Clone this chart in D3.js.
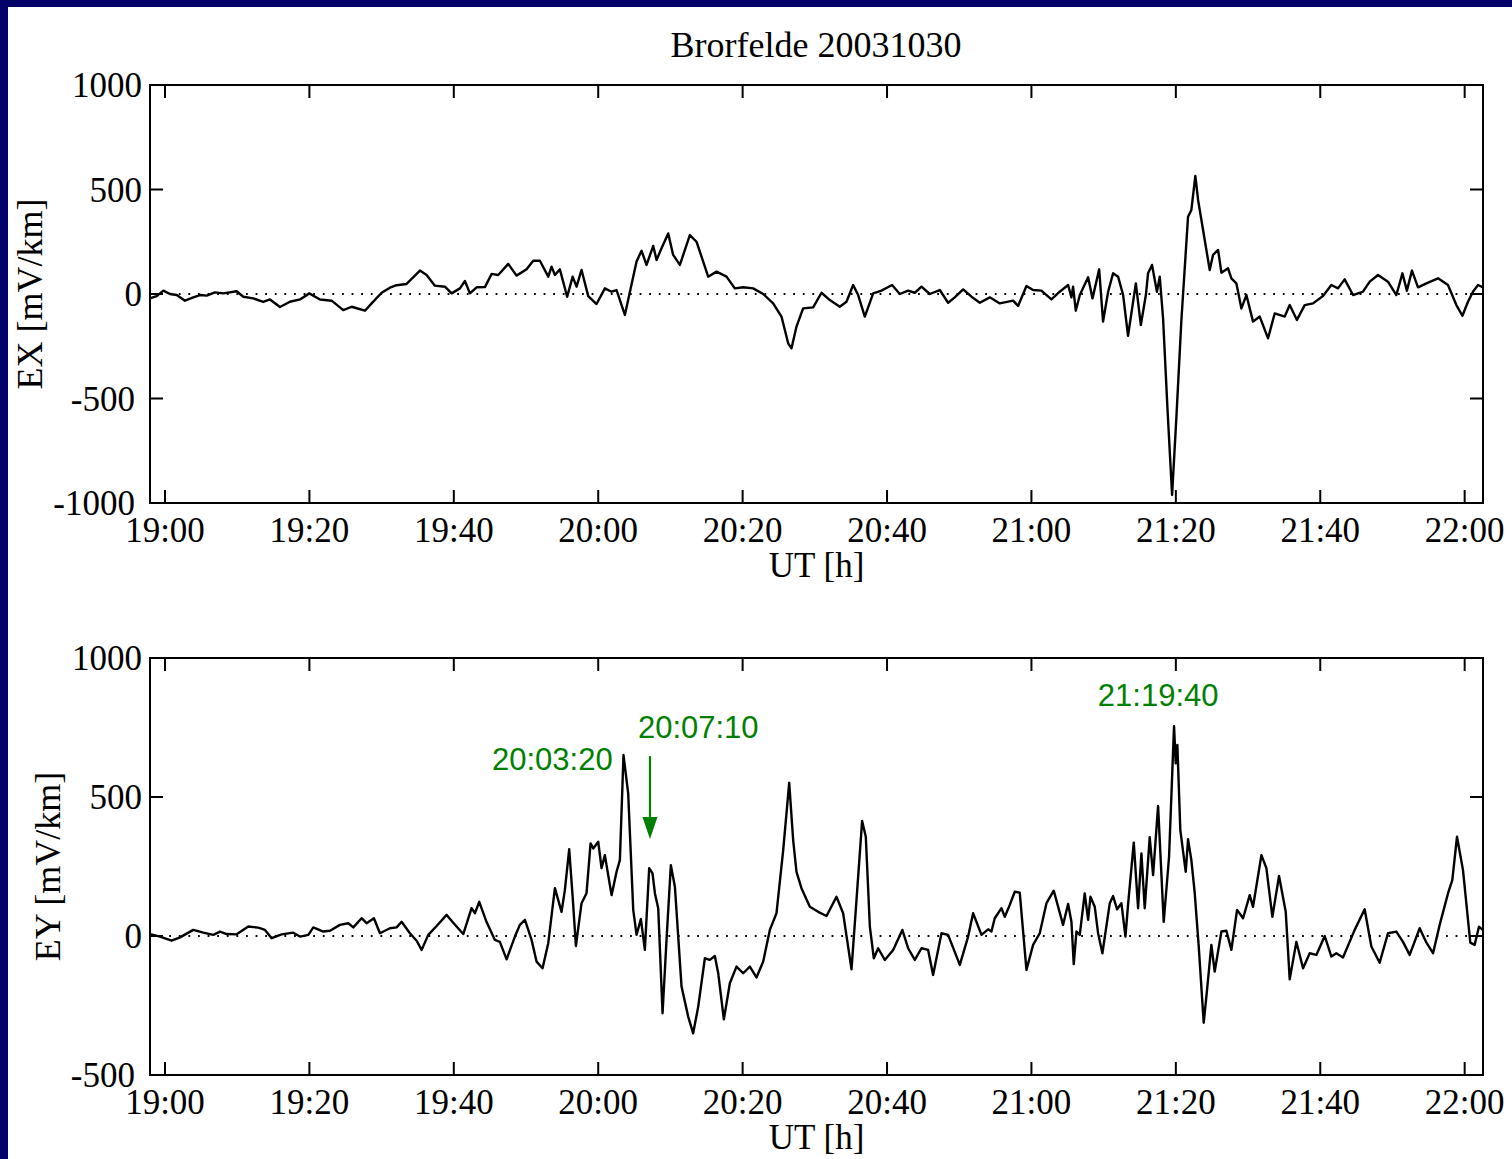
<!DOCTYPE html>
<html><head><meta charset="utf-8">
<script src="https://cdn.jsdelivr.net/npm/d3@7"></script>
<style>
html,body{margin:0;padding:0;background:#fff;}
svg{display:block;}
</style></head><body>
<svg id="chart" width="1512" height="1159"></svg>
<script>
// ---------- DATA (time in minutes after 19:00 UT, values in mV/km) ----------
const exTime = [-2.08,-1.15,-0.23,0.69,1.62,2.77,3.92,4.85,5.77,6.92,8.08,9.92,10.85,12.23,13.6,14.54,15.92,17.3,18.7,19.98,21.46,23.08,24.69,25.85,27.69,28.62,30,31.15,32.08,33.46,35.31,36.23,37.38,38.77,39.7,40.85,41.54,42.23,43.16,44.31,45.23,46.15,47.54,48.69,50.08,51,51.92,53.08,53.54,54,54.69,55.7,56.46,57,57.69,58.62,59.77,60.92,61.85,62.54,63.69,65.31,66,66.69,67.62,68.08,68.77,69.69,70.38,71.31,72.69,73.62,75.23,76.38,77.77,78.92,80.08,81.46,82.85,84.23,85.38,86.31,86.77,87.46,88.38,89.77,90.92,92.08,93.46,94.38,95.31,96,96.92,98.08,99.23,100.7,101.77,102.92,103.85,104.77,105.92,107.3,108.46,109.38,110.54,111.7,112.85,114.23,115.62,117.46,118.15,119.31,120.23,121.38,122.77,123.92,125.08,125.54,125.77,126.14,126.7,127.85,128.46,129.38,129.92,130.62,131.31,132,132.7,133.38,134.46,135.15,135.85,136.15,136.7,137.38,137.77,138.23,138.85,139.48,140.08,140.77,141.69,142.15,142.7,143.08,143.77,144.69,145.15,145.85,146.31,147.23,147.69,148.38,149.08,149.77,150.69,151.62,152.77,153.69,155.08,155.77,156.77,157.85,159,160.38,161.54,162.46,163.38,164.54,165.92,166.85,168,169.38,170.54,171.38,172,172.7,173.54,174.7,176.31,177.69,178.85,179.69,180.46,181.15,181.85,182.54];
const exValue = [-21,-10,16,0,-5,-32,-16,-5,-8,8,3,13,-13,-21,-38,-26,-62,-37,-26,3,-26,-32,-77,-61,-80,-45,6,30,42,48,112,91,40,35,3,27,62,3,32,33,96,91,144,88,118,159,159,83,131,91,118,-13,83,35,115,-10,-48,27,11,19,-100,155,207,139,230,163,219,290,187,139,282,250,83,107,83,27,32,27,0,-45,-108,-236,-260,-156,-69,-64,6,-29,-61,-37,43,-5,-108,3,16,43,0,16,6,35,0,19,-42,-16,22,-13,-42,-16,-45,-32,-57,38,19,16,-26,11,43,-16,35,-80,-5,80,-21,118,-132,11,99,83,-5,-200,51,-148,-5,99,139,11,83,-116,-555,-962,-587,-124,370,402,565,450,306,115,187,211,102,123,75,51,-69,-5,-132,-108,-212,-93,-108,-53,-124,-53,-45,-10,43,27,70,-5,11,59,91,59,-5,99,16,112,32,51,75,43,-53,-104,-37,11,43,32];

const eyTime = [-2.08,-0.69,0.92,2.08,3.92,5.31,6.69,7.62,8.54,9.92,11.54,12.92,13.85,14.77,16.15,17.77,18.69,19.85,20.54,21.92,22.85,24.23,25.38,26.08,27.23,27.92,28.94,29.77,31.15,32.08,32.77,33.92,34.85,35.54,36.46,37.62,39,39.92,41.31,42.46,42.92,43.52,44.54,45.69,46.38,47.31,48.46,49.15,49.85,50.77,51.46,52.29,53.08,54,54.92,55.38,55.98,56.46,56.91,57.69,58.38,58.94,59.31,60,60.46,60.92,61.85,62.54,63,63.5,64.15,64.85,65.31,65.91,66.46,67.06,67.52,67.85,68.31,68.91,69.46,70.06,70.62,71.54,72.46,73.15,73.85,74.77,75.46,76.15,76.62,77.4,78.23,79.15,80.08,81,81.92,82.85,83.77,84.69,85.62,86.45,87,87.46,88.15,89.31,90.46,91.62,93,93.92,95.08,95.77,96.55,97.06,97.62,98.17,98.77,99.69,100.85,102.12,102.92,103.85,104.77,105.69,106.38,107.54,108.46,110.08,111.23,111.92,113.08,114,114.46,114.92,115.85,116.31,117,117.69,118.38,119.31,120.23,121.15,122.08,123.09,124.38,125.08,125.54,125.86,126.23,126.69,127.38,127.85,128.17,128.77,129.23,129.83,130.85,131.31,131.86,132.46,133.02,133.38,134.17,134.77,135.23,135.69,136.38,136.85,137.54,138.32,139.06,139.75,139.98,140.21,140.62,141.37,141.69,142.15,142.62,143.17,143.86,144.32,144.92,145.38,146.31,147,147.69,148.48,149.31,150.23,150.69,151.85,152.54,153.37,154.29,155.22,155.77,156.69,157.62,158.54,159.46,160.62,161.54,162.23,163.15,164.77,166.15,167.08,168.23,169.38,170.54,171.46,172.38,173.77,174.69,175.62,176.54,177.69,178.29,178.94,179.77,180.78,181.38,181.98,182.54];
const eyValue = [7,-2,-17,-5,22,12,4,16,7,6,34,30,22,-8,6,12,-2,4,31,16,19,40,46,31,64,46,64,10,28,31,51,10,-17,-50,4,36,76,48,7,100,82,123,50,-14,-21,-84,-2,40,58,-14,-92,-116,-26,172,87,165,312,141,-36,118,154,333,315,339,244,291,147,231,273,651,513,94,4,61,-50,244,225,154,100,-278,-14,255,177,-182,-290,-350,-254,-80,-86,-72,-134,-300,-170,-110,-134,-110,-149,-92,22,82,309,551,345,231,172,105,87,72,141,82,-120,129,414,357,34,-80,-44,-86,-50,22,-44,-86,-44,-50,-140,10,4,-104,-2,82,4,24,16,64,100,69,112,159,156,-122,-32,10,118,163,40,115,51,-101,16,4,153,58,141,105,10,-62,118,144,96,118,-2,112,336,100,297,100,355,219,468,51,285,755,621,687,381,231,348,273,153,-38,-312,-194,-32,-128,16,19,-50,94,64,147,105,291,244,69,216,87,-156,-21,-116,-62,-68,0,-74,-62,-77,22,96,-38,-96,10,16,-21,-68,28,-23,-62,40,153,201,357,237,-24,-32,33,22];

const xTickMinutes = [0,20,40,60,80,100,120,140,160,180];
const xTickLabels = ["19:00","19:20","19:40","20:00","20:20","20:40","21:00","21:20","21:40","22:00"];
const exTicks = [-1000,-500,0,500,1000];
const eyTicks = [-500,0,500,1000];
const titleText = "Brorfelde 20031030";
const xLabelText = "UT [h]";
const exLabel = "EX [mV/km]";
const eyLabel = "EY [mV/km]";
const annTexts = ["20:03:20","20:07:10","21:19:40"];
const annTimes = [62.0, 65.5, 129.2];
const annValues = [597, 712, 827];
const annAnchors = ["end","start","start"];
const arrowTime = 67.17, arrowFromValue = 647, arrowToValue = 349;

// ---------- DRAW ----------
const svg = d3.select("#chart");
const W = 1512, H = 1159;
svg.append("rect").attr("width", W).attr("height", H).attr("fill", "#020268");
svg.append("rect").attr("x", 8).attr("y", 7).attr("width", W - 8).attr("height", H - 7).attr("fill", "#fff");

const serif = "'Liberation Serif','Times New Roman',Times,serif";
const sans = "'Liberation Sans',Arial,Helvetica,sans-serif";
const x = d3.scaleLinear().domain([-2.077, 182.54]).range([150, 1483]);

svg.append("text").attr("x", 816).attr("y", 57).attr("text-anchor", "middle")
  .attr("font-family", serif).attr("font-size", 36).text(titleText);

function panel(id, yScale, yTicks, times, values, ylabel, ylabelX) {
  const g = svg.append("g");
  const [y0, y1] = yScale.range(); // bottom, top
  const left = x.range()[0], right = x.range()[1];
  const TL = 13;
  svg.append("clipPath").attr("id", id).append("rect")
    .attr("x", left).attr("y", y1).attr("width", right - left).attr("height", y0 - y1);
  g.append("line").attr("x1", left).attr("x2", right)
    .attr("y1", yScale(0)).attr("y2", yScale(0))
    .attr("stroke", "#000").attr("stroke-width", 1.8).attr("stroke-dasharray", "1.8,7.8");
  const data = times.map((t, i) => [t, values[i]]);
  g.append("path").datum(data).attr("clip-path", `url(#${id})`)
    .attr("fill", "none").attr("stroke", "#000").attr("stroke-width", 2.4)
    .attr("stroke-linejoin", "round")
    .attr("d", d3.line().x(d => x(d[0])).y(d => yScale(d[1])));
  g.append("rect").attr("x", left).attr("y", y1).attr("width", right - left).attr("height", y0 - y1)
    .attr("fill", "none").attr("stroke", "#000").attr("stroke-width", 2);
  xTickMinutes.forEach((m, i) => {
    const px = x(m);
    g.append("line").attr("x1", px).attr("x2", px).attr("y1", y0).attr("y2", y0 - TL).attr("stroke", "#000").attr("stroke-width", 2);
    g.append("line").attr("x1", px).attr("x2", px).attr("y1", y1).attr("y2", y1 + TL).attr("stroke", "#000").attr("stroke-width", 2);
    g.append("text").attr("x", px).attr("y", y0 + 39).attr("text-anchor", "middle")
      .attr("font-family", serif).attr("font-size", 35).text(xTickLabels[i]);
  });
  yTicks.forEach(v => {
    const py = yScale(v);
    g.append("line").attr("x1", left).attr("x2", left + TL).attr("y1", py).attr("y2", py).attr("stroke", "#000").attr("stroke-width", 2);
    g.append("line").attr("x1", right).attr("x2", right - TL).attr("y1", py).attr("y2", py).attr("stroke", "#000").attr("stroke-width", 2);
    g.append("text").attr("x", v < 0 ? left - 15 : left - 8).attr("y", py).attr("dy", "0.35em")
      .attr("text-anchor", "end").attr("font-family", serif).attr("font-size", 35).text(String(v));
  });
  g.append("text").attr("x", (left + right) / 2).attr("y", y0 + 74).attr("text-anchor", "middle")
    .attr("font-family", serif).attr("font-size", 35).text(xLabelText);
  g.append("text").attr("transform", `translate(${ylabelX},${(y0 + y1) / 2}) rotate(-90)`)
    .attr("text-anchor", "middle").attr("font-family", serif).attr("font-size", 36).text(ylabel);
  return g;
}

const yEX = d3.scaleLinear().domain([-1000, 1000]).range([503, 85]);
const yEY = d3.scaleLinear().domain([-500, 1000]).range([1075, 658]);
panel("clipEX", yEX, exTicks, exTime, exValue, exLabel, 42);
const gEY = panel("clipEY", yEY, eyTicks, eyTime, eyValue, eyLabel, 60);

const green = "#008000";
annTexts.forEach((t, i) => {
  gEY.append("text").attr("x", x(annTimes[i])).attr("y", yEY(annValues[i]))
    .attr("text-anchor", annAnchors[i]).attr("font-family", sans).attr("font-size", 31)
    .attr("fill", green).text(t);
});
const ax = x(arrowTime), ayFrom = yEY(arrowFromValue), ayTo = yEY(arrowToValue);
gEY.append("line").attr("x1", ax).attr("x2", ax).attr("y1", ayFrom).attr("y2", ayTo - 20)
  .attr("stroke", green).attr("stroke-width", 2.2);
gEY.append("path").attr("fill", green)
  .attr("d", `M${ax - 7.5},${ayTo - 22} L${ax + 7.5},${ayTo - 22} L${ax},${ayTo} Z`);
</script>
</body></html>
